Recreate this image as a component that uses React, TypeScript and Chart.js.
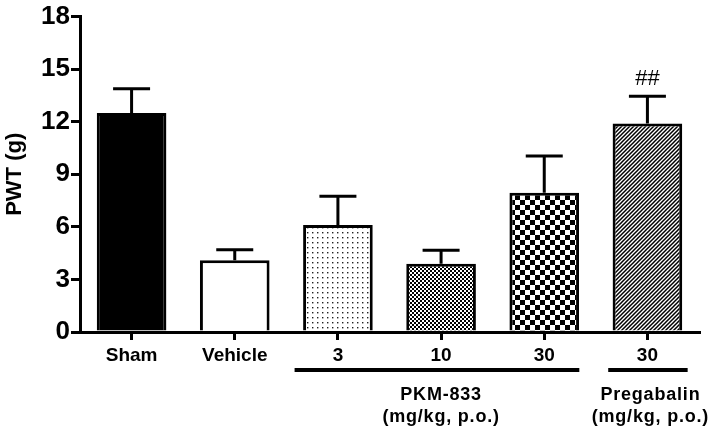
import React, { useEffect, useRef } from "react";
import { Chart, registerables } from "chart.js";

Chart.register(...registerables);

const categories = ["Sham", "Vehicle", "3", "10", "30", "30"];
const means = [12.5, 4.1, 6.1, 3.9, 7.95, 11.9];
const sems = [1.38, 0.6, 1.65, 0.77, 2.1, 1.55];
const yTicks = [0, 3, 6, 9, 12, 15, 18];
const significance = ["", "", "", "", "", "##"];
const groups = [
  { label: "PKM-833", sub: "(mg/kg, p.o.)", from: 2, to: 4 },
  { label: "Pregabalin", sub: "(mg/kg, p.o.)", from: 5, to: 5 },
];

const FONT = "'Liberation Sans', Arial, sans-serif";

function makeTile(w: number, h: number, draw: (c: CanvasRenderingContext2D) => void) {
  const cv = document.createElement("canvas");
  cv.width = w;
  cv.height = h;
  const c = cv.getContext("2d")!;
  c.fillStyle = "#fff";
  c.fillRect(0, 0, w, h);
  draw(c);
  return c.createPattern(cv, "repeat")!;
}

function makeFills(): (string | CanvasPattern)[] {
  const dots = makeTile(5, 5, (c) => {
    c.fillStyle = "#222";
    c.fillRect(2, 2, 1.4, 1.4);
  });
  const fine = makeTile(4, 4, (c) => {
    c.fillStyle = "#000";
    c.fillRect(0, 0, 2, 2);
    c.fillRect(2, 2, 2, 2);
  });
  const coarse = makeTile(10, 10, (c) => {
    c.fillStyle = "#000";
    c.fillRect(0, 0, 5, 5);
    c.fillRect(5, 5, 5, 5);
  });
  const hatch = makeTile(4, 4, (c) => {
    c.strokeStyle = "#000";
    c.lineWidth = 1.5;
    c.beginPath();
    c.moveTo(-1, 5);
    c.lineTo(5, -1);
    c.moveTo(-1, 1);
    c.lineTo(1, -1);
    c.moveTo(3, 5);
    c.lineTo(5, 3);
    c.stroke();
  });
  return ["#000", "#fff", dots, fine, coarse, hatch];
}

const errorBarPlugin = {
  id: "errorBars",
  afterDatasetsDraw(chart: any) {
    const ctx = chart.ctx;
    const y = chart.scales.y;
    const meta = chart.getDatasetMeta(0);
    ctx.save();
    ctx.strokeStyle = "#000";
    ctx.lineWidth = 3;
    meta.data.forEach((bar: any, i: number) => {
      const x = bar.x;
      const yBar = y.getPixelForValue(means[i]);
      const yTop = y.getPixelForValue(means[i] + sems[i]);
      ctx.beginPath();
      ctx.moveTo(x, yBar);
      ctx.lineTo(x, yTop);
      ctx.moveTo(x - 18.5, yTop);
      ctx.lineTo(x + 18.5, yTop);
      ctx.stroke();
      if (significance[i]) {
        ctx.fillStyle = "#000";
        ctx.font = `22px ${FONT}`;
        ctx.textAlign = "center";
        ctx.textBaseline = "middle";
        ctx.fillText(significance[i], x, yTop - 17);
      }
    });
    ctx.restore();
  },
};

const groupPlugin = {
  id: "groups",
  afterDraw(chart: any) {
    const ctx = chart.ctx;
    const x = chart.scales.x;
    const base = chart.chartArea.bottom;
    const cw = x.getPixelForValue(1) - x.getPixelForValue(0);
    ctx.save();
    ctx.fillStyle = "#000";
    ctx.strokeStyle = "#000";
    groups.forEach((g) => {
      const single = g.from === g.to;
      const start = x.getPixelForValue(g.from) - (single ? 0.38 : 0.42) * cw;
      const end = x.getPixelForValue(g.to) + (single ? 0.39 : 0.34) * cw;
      ctx.lineWidth = 4;
      ctx.beginPath();
      ctx.moveTo(start, base + 38);
      ctx.lineTo(end, base + 38);
      ctx.stroke();
      const cx = (x.getPixelForValue(g.from) + x.getPixelForValue(g.to)) / 2 + (single ? 3 : 0);
      ctx.font = `bold 18px ${FONT}`;
      (ctx as any).letterSpacing = "0.8px";
      ctx.textAlign = "center";
      ctx.textBaseline = "middle";
      ctx.fillText(g.label, cx, base + 63);
      ctx.fillText(g.sub, cx, base + 85);
    });
    ctx.restore();
  },
};

export default function App() {
  const ref = useRef<HTMLCanvasElement>(null);
  useEffect(() => {
    if (!ref.current) return;
    const chart = new Chart(ref.current, {
      type: "bar",
      data: {
        labels: categories,
        datasets: [
          {
            data: means,
            backgroundColor: makeFills() as any,
            borderColor: "#000",
            borderWidth: 3,
            barPercentage: 0.675,
            categoryPercentage: 1,
          },
        ],
      },
      options: {
        animation: false,
        responsive: false,
        devicePixelRatio: 1,
        layout: { padding: { left: 0, right: 10, top: 14, bottom: 0 } },
        plugins: { legend: { display: false }, tooltip: { enabled: false } },
        scales: {
          x: {
            z: 1,
            offset: true,
            grid: { offset: false, drawOnChartArea: false, drawTicks: true, tickLength: 8, lineWidth: 3, color: "#000" },
            border: { display: true, width: 3, color: "#000" },
            ticks: { color: "#000", font: { family: FONT, size: 19, weight: "bold" }, padding: 4, maxRotation: 0 },
            afterFit: (s: any) => {
              s.height = 98;
            },
          },
          y: {
            z: 1,
            min: 0,
            max: 18,
            afterBuildTicks: (s: any) => {
              s.ticks = yTicks.map((v) => ({ value: v }));
            },
            grid: { drawOnChartArea: false, drawTicks: true, tickLength: 9, lineWidth: 3, color: "#000" },
            border: { display: true, width: 3, color: "#000" },
            ticks: { color: "#000", font: { family: FONT, size: 26, weight: "bold" }, padding: 1 },
            title: { display: true, text: "PWT (g)", color: "#000", font: { family: FONT, size: 22, weight: "bold" }, padding: { top: 2, bottom: 2 } },
            afterFit: (s: any) => {
              s.width = 80;
            },
          },
        },
      },
      plugins: [errorBarPlugin, groupPlugin],
    } as any);
    return () => chart.destroy();
  }, []);
  return (
    <div style={{ position: "fixed", left: 0, top: 0, width: 709, height: 430, background: "#fff" }}>
      <canvas ref={ref} width={709} height={430} style={{ display: "block" }} />
    </div>
  );
}
